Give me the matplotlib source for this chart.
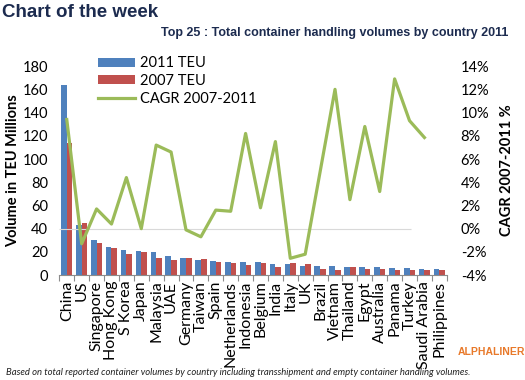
import numpy as np
import matplotlib
matplotlib.use("Agg")
import matplotlib.pyplot as plt
from matplotlib.ticker import FixedLocator, FuncFormatter

countries = ["China", "US", "Singapore", "Hong Kong", "S Korea", "Japan", "Malaysia",
             "UAE", "Germany", "Taiwan", "Spain", "Netherlands", "Indonesia", "Belgium",
             "India", "Italy", "UK", "Brazil", "Vietnam", "Thailand", "Egypt", "Australia",
             "Panama", "Turkey", "Saudi Arabia", "Philippines"]
teu_2011 = [164, 43, 30, 24.2, 21.3, 20.5, 20.0, 16.8, 14.8, 13.3, 12.0, 11.6, 11.3,
            10.9, 9.8, 9.5, 8.0, 7.5, 7.5, 6.9, 6.9, 6.6, 6.3, 6.3, 5.5, 5.2]
teu_2007 = [114, 45, 27.8, 23.6, 17.8, 20.3, 15.0, 12.6, 14.8, 13.5, 11.2, 10.5, 8.5,
            10.1, 7.0, 10.3, 9.2, 5.7, 4.6, 6.6, 4.9, 5.7, 4.3, 4.6, 4.6, 4.0]
cagr = [9.4, -1.3, 1.7, 0.4, 4.4, 0.0, 7.2, 6.6, -0.1, -0.7, 1.6, 1.5, 8.2,
        1.8, 7.5, -2.55, -2.2, 4.9, 12.0, 2.5, 8.8, 3.2, 12.9, 9.3, 7.85, np.nan]

blue = "#4f81bd"
red = "#c0504d"
green = "#9bbb59"
navy = "#1c2b4f"
tickfont = ["Lato", "DejaVu Sans"]

fig = plt.figure(figsize=(5.25, 3.8), dpi=100)
ax = fig.add_axes([0.113, 0.276, 0.738, 0.550])
ax2 = ax.twinx()

x = np.arange(len(countries))
w = 0.38
ax.bar(x - w / 2, teu_2011, width=w, color=blue, label="2011 TEU", zorder=2)
ax.bar(x + w / 2, teu_2007, width=w, color=red, label="2007 TEU", zorder=2)

ax2.hlines(0, -0.5, 23.1, color="#d9d9d9", lw=0.8, zorder=0)
ax2.plot(x, cagr, color=green, lw=2.3, label="CAGR 2007-2011", zorder=3)

ax.set_xlim(-0.5, len(countries) - 0.5)
ax.set_ylim(0, 180)
ax.set_yticks(np.arange(0, 181, 20))
ax2.set_ylim(-4, 14)
ax2.set_yticks(np.arange(-4, 15, 2))
ax2.yaxis.set_major_formatter(FuncFormatter(lambda v, p: f"{int(v)}%"))

for a in (ax, ax2):
    for s in ("top", "left", "right"):
        a.spines[s].set_visible(False)
ax2.spines["bottom"].set_visible(False)
ax.spines["bottom"].set_color("#8c8c8c")
ax.spines["bottom"].set_linewidth(0.8)

ax.set_xticks(x)
ax.set_xticklabels(countries, rotation=90, fontsize=11.5, family=tickfont)
ax.tick_params(axis="x", which="major", length=0, pad=4)
ax.xaxis.set_minor_locator(FixedLocator(np.arange(-0.5, len(countries), 1)))
ax.tick_params(axis="x", which="minor", length=4, color="#8c8c8c", width=0.8)
ax.tick_params(axis="y", length=0, labelsize=10.5, pad=8)
ax2.tick_params(axis="y", length=0, labelsize=10.5, pad=10)
for lab in ax.get_yticklabels() + ax2.get_yticklabels():
    lab.set_family(tickfont)

ax.set_ylabel("Volume in TEU Millions", fontsize=10.5, fontweight="bold",
              family=tickfont, labelpad=2)
ax2.set_ylabel("CAGR 2007-2011 %", fontsize=10.5, fontweight="bold",
               family=tickfont, labelpad=8)

h1, l1 = ax.get_legend_handles_labels()
h2, l2 = ax2.get_legend_handles_labels()
leg = ax.legend(h1 + h2, l1 + l2, loc="upper left", bbox_to_anchor=(0.085, 1.075),
                frameon=False, prop={"family": tickfont, "size": 10.5},
                handlelength=2.5, handleheight=0.6, handletextpad=0.35,
                labelspacing=0.25, borderaxespad=0)

fig.text(0.004, 0.966, "Chart of the week", fontsize=13.5, fontweight="bold",
         color=navy, family=["Liberation Sans", "DejaVu Sans"],
         ha="left", va="center")
fig.text(0.968, 0.913, "Top 25 : Total container handling volumes by country 2011",
         fontsize=9, fontweight="bold", color=navy,
         family=["Liberation Sans", "DejaVu Sans"], ha="right", va="center")
fig.text(1.0, 0.074, "ALPHALINER", fontsize=7.5, fontweight="bold", color="#e8792a",
         family=["Liberation Sans", "DejaVu Sans"], ha="right", va="center")
fig.text(0.012, 0.020,
         "Based on total reported container volumes by country including transshipment and empty container handling volumes.",
         fontsize=6.8, style="italic", color="#222222", family=tickfont,
         ha="left", va="center")

fig.savefig("out.png", dpi=100)
